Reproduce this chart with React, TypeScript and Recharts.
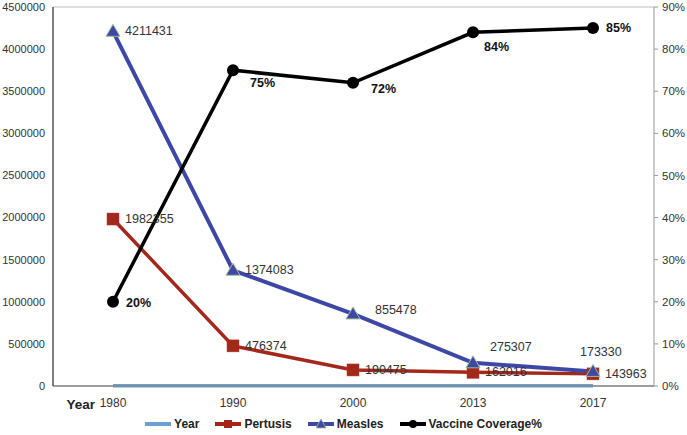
import { LineChart, Line, XAxis, YAxis, CartesianGrid, Legend, LabelList } from 'recharts'

const years = ['1980', '1990', '2000', '2013', '2017']
const yearValues = [1980, 1990, 2000, 2013, 2017]
const pertusis = [1982355, 476374, 190475, 162016, 143963]
const measles = [4211431, 1374083, 855478, 275307, 173330]
const coverage = [20, 75, 72, 84, 85]

const leftTicks = [0, 500000, 1000000, 1500000, 2000000, 2500000, 3000000, 3500000, 4000000, 4500000]
const rightTicks = [0, 10, 20, 30, 40, 50, 60, 70, 80, 90]

const data = years.map((y, i) => ({
  year: y,
  Year: yearValues[i],
  Pertusis: pertusis[i],
  Measles: measles[i],
  Coverage: coverage[i],
}))

const FONT = '"Liberation Sans", Arial, sans-serif'
const BLUE = '#3d47a6'
const RED = '#a3271b'
const LIGHT = '#6a9fd6'

// label offsets per point, just nudging text like the original
const measlesOffsets = [[12, 0], [12, 0], [22, -4], [17, -16], [-13, -19]]
const coverageOffsets = [[13, 1], [17, 13], [18, 6], [11, 15], [13, 0]]

function XTick({ x, y, payload, index }: any) {
  return (
    <g>
      {index === 0 && (
        <text x={x - 18} y={y + 15} textAnchor="end" fontSize={13.5} fontWeight="bold" fill="#222" fontFamily={FONT}>
          Year
        </text>
      )}
      <text x={x} y={y + 13} textAnchor="middle" fontSize={12} fill="#333" fontFamily={FONT}>
        {payload.value}
      </text>
    </g>
  )
}

function Square({ cx, cy }: any) {
  return <rect x={cx - 6} y={cy - 6} width={12} height={12} fill={RED} stroke="#c0392b" strokeWidth={0.5} />
}

function Triangle({ cx, cy }: any) {
  return <path d={`M${cx},${cy - 7} L${cx + 7},${cy + 5} L${cx - 7},${cy + 5} Z`} fill={BLUE} stroke="#9fbf8f" strokeWidth={1} />
}

function Dot({ cx, cy }: any) {
  return <circle cx={cx} cy={cy} r={6} fill="#000" />
}

const plainLabel = (dx: number, dy: number) => (props: any) => {
  const { x, y, value } = props
  return (
    <text x={x + dx} y={y + dy} dy={4} fontSize={12.5} fill="#333" fontFamily={FONT}>
      {value}
    </text>
  )
}

const offsetLabel = (offsets: number[][], bold: boolean, fmt: (v: number) => string) => (props: any) => {
  const { x, y, value, index } = props
  const [dx, dy] = offsets[index]
  return (
    <text
      x={x + dx}
      y={y + dy}
      dy={4}
      fontSize={12.5}
      fontWeight={bold ? 'bold' : 'normal'}
      fill={bold ? '#111' : '#333'}
      fontFamily={FONT}
    >
      {fmt(value)}
    </text>
  )
}

function LegendContent() {
  const items = [
    { name: 'Year', color: LIGHT, marker: 'none' },
    { name: 'Pertusis', color: RED, marker: 'square' },
    { name: 'Measles', color: BLUE, marker: 'triangle' },
    { name: 'Vaccine Coverage%', color: '#000', marker: 'circle' },
  ]
  return (
    <div style={{ display: 'flex', justifyContent: 'center', gap: 16, fontFamily: FONT, fontWeight: 'bold', fontSize: 12, color: '#222', paddingTop: 4 }}>
      {items.map((it) => (
        <div key={it.name} style={{ display: 'flex', alignItems: 'center', gap: 3 }}>
          <svg width={26} height={12}>
            <line x1={0} y1={6} x2={26} y2={6} stroke={it.color} strokeWidth={4} />
            {it.marker === 'square' && <rect x={9} y={2} width={8} height={8} fill={it.color} />}
            {it.marker === 'triangle' && <path d="M13,1 L18,10 L8,10 Z" fill={it.color} stroke="#9fbf8f" strokeWidth={0.8} />}
            {it.marker === 'circle' && <circle cx={13} cy={6} r={4} fill={it.color} />}
          </svg>
          <span>{it.name}</span>
        </div>
      ))}
    </div>
  )
}

export default function App() {
  return (
    <div style={{ position: 'absolute', left: 0, top: 0, width: 687, height: 435, background: '#fff' }}>
      <LineChart width={687} height={435} data={data} margin={{ top: 7, right: 0, left: 0, bottom: 0 }}>
        <CartesianGrid vertical={false} stroke="#bdbdbd" />
        <XAxis
          dataKey="year"
          padding={{ left: 60, right: 61 }}
          tick={<XTick />}
          tickLine={false}
          axisLine={{ stroke: '#888', strokeWidth: 1.5 }}
          height={27}
          interval={0}
        />
        <YAxis
          yAxisId="left"
          width={53}
          domain={[0, 4500000]}
          ticks={leftTicks}
          tickLine={false}
          axisLine={{ stroke: '#555', strokeWidth: 1.5 }}
          tick={{ fontSize: 11, fill: '#333', fontFamily: FONT }}
          tickMargin={2}
        />
        <YAxis
          yAxisId="right"
          orientation="right"
          width={33}
          domain={[0, 90]}
          ticks={rightTicks}
          tickFormatter={(v) => `${v}%`}
          tickSize={4}
          tickLine={{ stroke: '#999' }}
          axisLine={{ stroke: '#999' }}
          tick={{ fontSize: 11.5, fill: '#333', fontFamily: FONT }}
          tickMargin={4}
        />
        <Legend verticalAlign="bottom" height={22} content={<LegendContent />} />
        <Line yAxisId="left" dataKey="Year" stroke={LIGHT} strokeWidth={3.5} dot={false} isAnimationActive={false} />
        <Line yAxisId="left" dataKey="Pertusis" stroke={RED} strokeWidth={3.5} dot={<Square />} isAnimationActive={false}>
          <LabelList dataKey="Pertusis" content={plainLabel(12, 0)} />
        </Line>
        <Line yAxisId="left" dataKey="Measles" stroke={BLUE} strokeWidth={4} dot={<Triangle />} isAnimationActive={false}>
          <LabelList dataKey="Measles" content={offsetLabel(measlesOffsets, false, (v) => String(v))} />
        </Line>
        <Line yAxisId="right" dataKey="Coverage" stroke="#000" strokeWidth={3.5} dot={<Dot />} isAnimationActive={false}>
          <LabelList dataKey="Coverage" content={offsetLabel(coverageOffsets, true, (v) => `${v}%`)} />
        </Line>
      </LineChart>
    </div>
  )
}
